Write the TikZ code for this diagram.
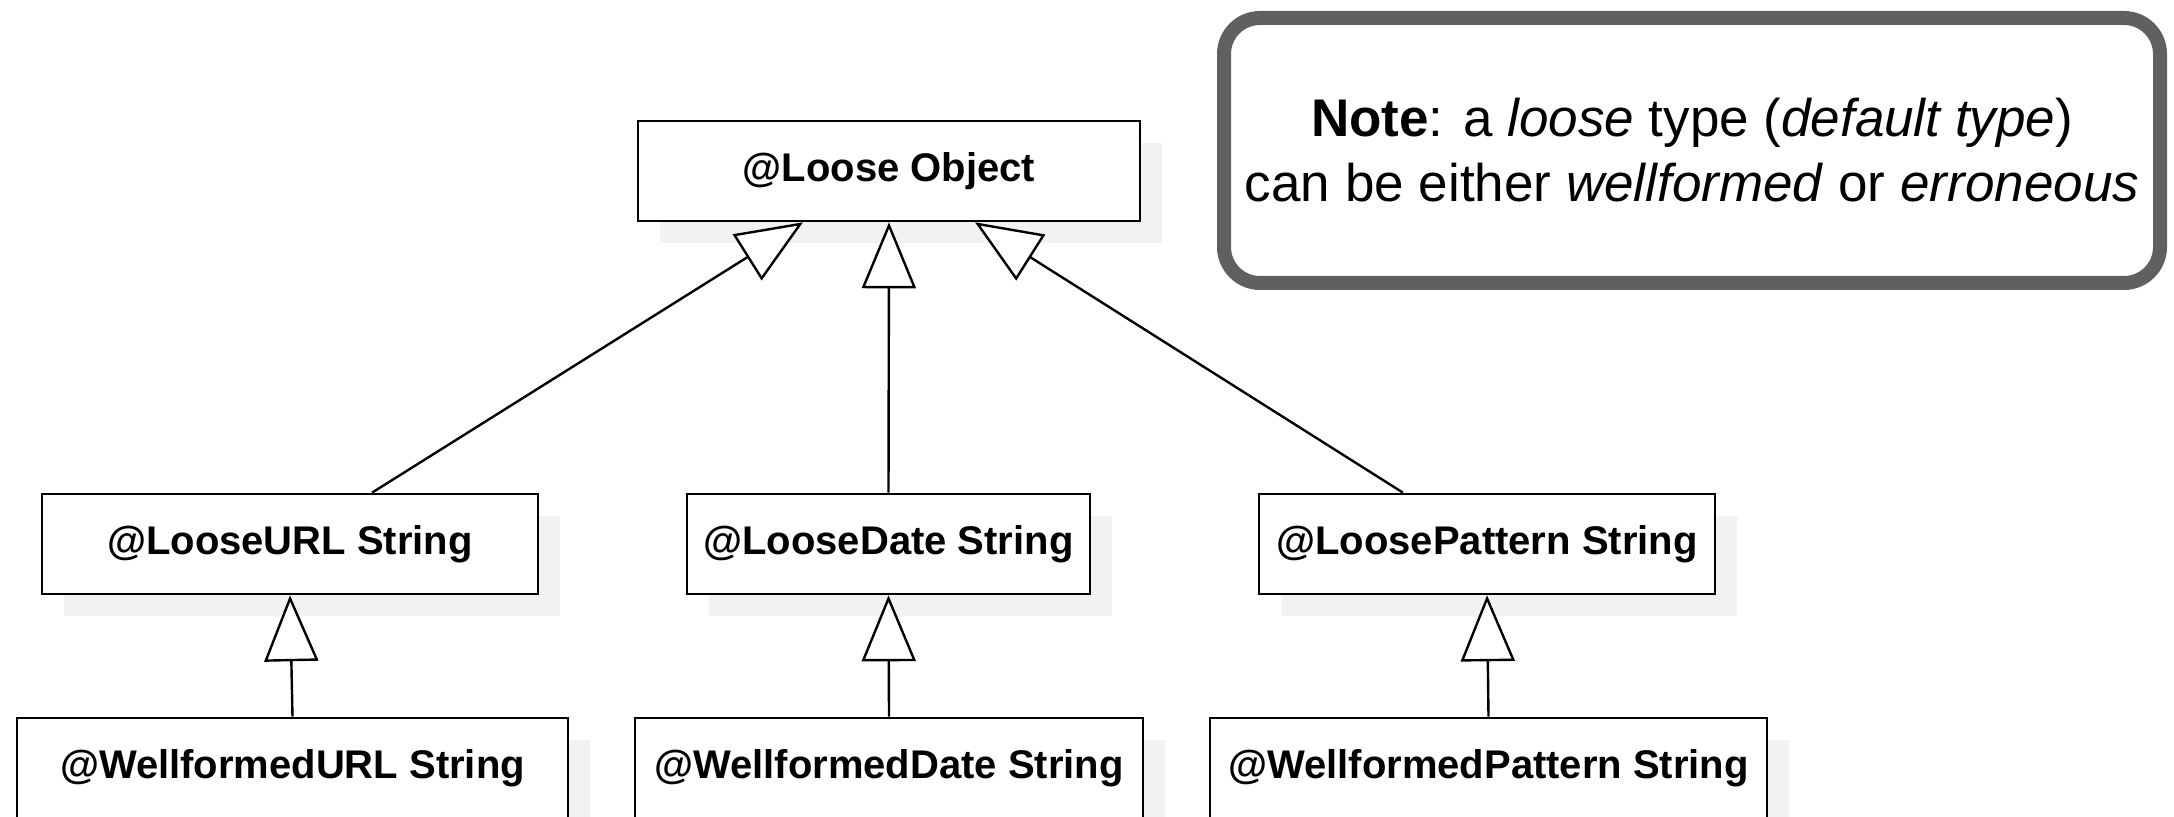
\documentclass[tikz,border=0pt]{standalone}
\usepackage{fontspec}
\setmainfont{Liberation Sans}
\usetikzlibrary{arrows.meta,shadows}
\definecolor{notegray}{RGB}{96,96,96}
\definecolor{shadowgray}{RGB}{242,242,242}

\begin{document}
\begin{tikzpicture}[x=0.5pt, y=-0.5pt,
    typebox/.style={draw,
        fill=white,
        line width=1.3pt,
        minimum height=50pt,
        inner sep=0pt,
        font=\fontsize{20pt}{24pt}\selectfont\bfseries,
        drop shadow={shadow xshift=11pt, shadow yshift=-11pt, fill=shadowgray, opacity=1}},
    isa/.style={line width=1.2pt,
        -{Triangle[open, fill=white, length=33pt, width=27pt]}}]

\useasboundingbox (0,0) rectangle (2174,817);

% Top type
\node [typebox, minimum width=251pt] (obj) at (889,171) {@Loose Object};

% Loose types
\node [typebox, minimum width=248pt] (lurl) at (290,544) {@LooseURL String};
\node [typebox, minimum width=201.5pt] (ldate) at (888.5,544) {@LooseDate String};
\node [typebox, minimum width=228pt] (lpat) at (1487,544) {@LoosePattern String};

% Wellformed types
\node [typebox, minimum width=275.5pt] (wurl) at (292.5,768) {@WellformedURL String};
\node [typebox, minimum width=254pt] (wdate) at (889,768) {@WellformedDate String};
\node [typebox, minimum width=278.5pt] (wpat) at (1488.5,768) {@WellformedPattern String};

% Note
\node [draw=notegray,
    line width=7pt,
    rounded corners=18pt,
    minimum width=468pt,
    minimum height=132.5pt,
    inner sep=0pt,
    align=center,
    font=\fontsize{26.5pt}{32.5pt}\selectfont] (note) at (1692,150.5)
    {\textbf{Note}: a \textit{loose} type (\textit{default type})\\can be either \textit{wellformed} or \textit{erroneous}};

% Inheritance
\draw [isa] ([xshift=41pt]lurl.north) -- ([xshift=-43pt]obj.south);
\draw [isa] (ldate.north) -- (obj.south);
\draw [isa] ([xshift=-42pt]lpat.north) -- ([xshift=43pt]obj.south);
\draw [isa] (wurl.north) -- (lurl.south);
\draw [isa] (wdate.north) -- (ldate.south);
\draw [isa] (wpat.north) -- (lpat.south);

\end{tikzpicture}
\end{document}
